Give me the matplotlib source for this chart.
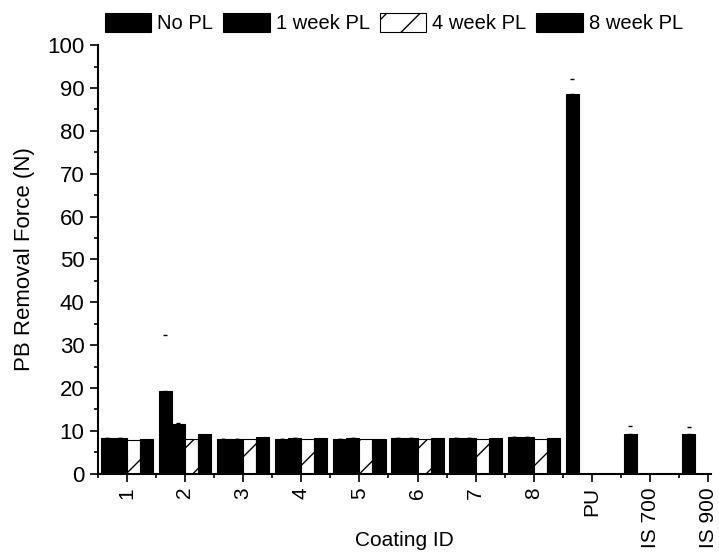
import numpy as np
import matplotlib.pyplot as plt

plt.rcParams['font.family'] = ['Liberation Sans', 'DejaVu Sans']
plt.rcParams['hatch.linewidth'] = 1.0

coatings = ['1', '2', '3', '4', '5', '6', '7', '8', 'PU', 'IS 700', 'IS 900']
series = ['No PL', '1 week PL', '4 week PL', '8 week PL']

no_pl = [8.3, 19.4, 8.1, 8.2, 8.2, 8.3, 8.3, 8.6, 88.5, 9.2, 9.2]
week1 = [8.3, 11.6, 8.2, 8.3, 8.3, 8.3, 8.4, 8.6, np.nan, np.nan, np.nan]
week4 = [7.9, 8.1, 8.0, 8.0, 8.0, 8.0, 8.0, 8.0, np.nan, np.nan, np.nan]
week8 = [8.1, 9.3, 8.5, 8.3, 8.2, 8.3, 8.3, 8.4, np.nan, np.nan, np.nan]

err_no_pl = [0, 13.0, 0, 0, 0, 0, 0, 0, 3.5, 1.9, 1.8]
err_week1 = [0, 0.3, 0, 0, 0, 0, 0, 0, np.nan, np.nan, np.nan]

values = [no_pl, week1, week4, week8]
errors = [err_no_pl, err_week1, None, None]

fig = plt.figure(figsize=(7.19, 5.58), dpi=100)
ax = fig.add_axes([0.136, 0.151, 0.853, 0.768])

x = np.arange(1, len(coatings) + 1)
width = 0.225
offsets = [-1.5 * width, -0.5 * width, 0.5 * width, 1.5 * width]

for name, vals, err, off in zip(series, values, errors, offsets):
    hatched = name == '4 week PL'
    ax.bar(x + off, vals, width,
           color='white' if hatched else 'black',
           edgecolor='black', linewidth=0.8,
           hatch='/' if hatched else None,
           label=name)
    if err is not None:
        ax.errorbar(x + off, vals, yerr=[np.zeros(len(err)), err], fmt='none',
                    ecolor='black', elinewidth=0, capsize=1.5, capthick=1)

ax.set_xlim(0.5, 11.05)
ax.set_ylim(0, 100)
ax.set_xticks(x)
ax.set_xticklabels(coatings, rotation=90)
ax.set_xticks(np.arange(0.5, 11.5, 1.0), minor=True)
ax.set_yticks(np.arange(0, 101, 10))
ax.set_yticks(np.arange(5, 100, 10), minor=True)

for side in ['top', 'right']:
    ax.spines[side].set_visible(False)
for side in ['left', 'bottom']:
    ax.spines[side].set_linewidth(1.5)

ax.tick_params(axis='both', which='major', direction='out', length=6, width=1.2,
               labelsize=15)
ax.tick_params(axis='y', which='major', labelsize=16)
ax.tick_params(axis='both', which='minor', direction='out', length=3, width=1.2)

ax.set_xlabel('Coating ID', fontsize=15, va='center')
ax.xaxis.set_label_coords(0.5, -0.155)
ax.set_ylabel('PB Removal Force (N)', fontsize=16, labelpad=9)

fig.legend(loc='upper left', bbox_to_anchor=(0.135, 0.992), ncol=4, frameon=False,
           fontsize=14.5, handlelength=2.3, handleheight=1.1, handletextpad=0.3,
           columnspacing=0.5, borderaxespad=0)

fig.savefig('out.png', dpi=100)
